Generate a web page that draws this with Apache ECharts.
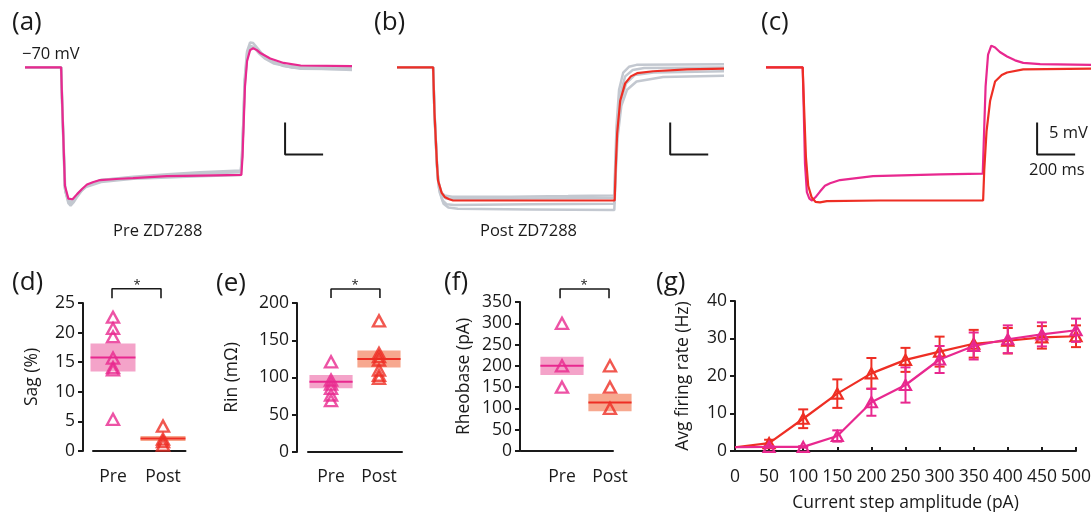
<!DOCTYPE html>
<html>
<head>
<meta charset="utf-8">
<script src="https://cdn.jsdelivr.net/npm/echarts@6/dist/echarts.min.js"></script>
<style>
  html, body { margin: 0; padding: 0; background: #fff; }
  #main { width: 1091px; height: 514px; }
</style>
</head>
<body>
<div id="main"></div>
<script>
// ---- traces (time in ms, voltage in mV) ----
const preTraceA = [[0,-70],[190,-70],[195,-75],[210,-88.5],[228,-90.5],[237,-90.8],[250,-90.6],[274,-89.8],[300,-89.0],[326,-88.3],[360,-87.9],[395,-87.6],[500,-87.4],[568,-87.3],[747,-87.0],[921,-86.9],[1138,-86.8],[1144,-84],[1150,-79],[1157,-73],[1168,-69],[1184,-67.3],[1200,-67.0],[1220,-67.3],[1240,-67.8],[1290,-68.6],[1360,-69.3],[1450,-69.7],[1720,-69.8]];
const grayTracesA = [
  [[0,-70],[190,-70],[195,-75.5],[210,-89],[228,-91.2],[240,-91.6],[255,-91.1],[275,-90.2],[300,-89.2],[330,-88.4],[400,-87.6],[570,-87.1],[750,-86.7],[920,-86.4],[1135,-86.1],[1141,-84],[1147,-80],[1155,-72],[1168,-67.5],[1184,-66.1],[1200,-66.2],[1220,-66.9],[1245,-67.8],[1290,-68.9],[1360,-69.8],[1450,-70.2],[1720,-70.3]],
  [[0,-70],[190,-70],[196,-76],[212,-89.4],[230,-91.0],[242,-91.2],[260,-90.6],[285,-89.6],[320,-88.7],[400,-87.9],[570,-87.4],[750,-87.2],[920,-87.0],[1135,-86.8],[1142,-84],[1148,-79],[1157,-72],[1170,-68],[1186,-66.8],[1205,-66.9],[1230,-67.8],[1260,-68.6],[1310,-69.4],[1400,-70.0],[1720,-70.4]],
  [[0,-70],[190,-70],[195,-75],[210,-88.8],[228,-90.9],[238,-91.1],[252,-90.8],[275,-89.9],[300,-89.1],[330,-88.4],[400,-87.6],[570,-87.2],[750,-86.9],[920,-86.6],[1135,-86.4],[1141,-84],[1147,-79.5],[1156,-72.5],[1168,-67.8],[1184,-66.6],[1202,-66.8],[1225,-67.5],[1250,-68.2],[1300,-69.1],[1380,-69.8],[1720,-70.0]]
];
const postTraceB = [[0,-70],[190,-70],[197,-77],[210,-85],[216,-87.7],[235,-89.6],[253,-90.3],[275,-90.6],[295,-90.8],[600,-90.8],[900,-90.8],[1145,-90.8],[1150,-86],[1158,-80.3],[1174,-75.2],[1200,-72.5],[1230,-71.4],[1263,-70.9],[1347,-70.6],[1526,-70.3],[1720,-70.2]];
const grayTracesB = [
  [[0,-70],[190,-70],[196,-76],[208,-84],[215,-87.5],[232,-89.5],[250,-90.0],[290,-90.2],[600,-90.2],[900,-90.1],[1143,-90.0],[1148,-85],[1155,-79],[1168,-73.5],[1190,-70.8],[1220,-69.9],[1260,-69.6],[1720,-69.5]],
  [[0,-70],[190,-70],[197,-77],[210,-85],[218,-88],[238,-90],[258,-90.5],[300,-90.6],[700,-90.5],[1143,-90.4],[1149,-85.5],[1157,-79.5],[1172,-74.5],[1200,-71.4],[1240,-70.4],[1300,-70.1],[1720,-70.0]],
  [[0,-70],[190,-70],[197,-77],[210,-85.5],[220,-88.8],[240,-90.8],[262,-91.4],[300,-91.5],[700,-91.4],[1143,-91.3],[1150,-86],[1158,-80.5],[1175,-75.5],[1205,-72.5],[1250,-71.2],[1350,-70.8],[1720,-70.6]],
  [[0,-70],[190,-70],[198,-78],[212,-86],[224,-89.5],[245,-91.3],[270,-91.9],[320,-92.1],[700,-92.2],[1143,-92.3],[1150,-87],[1160,-81],[1180,-76],[1210,-73.5],[1260,-72.2],[1400,-71.5],[1720,-71.3]]
];
const preTraceC = [[0,-70],[193,-70],[198,-76],[205,-85],[215,-89.5],[228,-90.5],[242,-90.8],[260,-90.3],[284,-89.4],[310,-88.5],[337,-88.1],[389,-87.6],[563,-87.0],[916,-86.7],[1140,-86.6],[1145,-82],[1155,-73],[1168,-68],[1185,-66.6],[1205,-66.9],[1230,-67.6],[1268,-68.3],[1310,-68.9],[1353,-69.3],[1442,-69.5],[1720,-69.6]];
const postTraceC = [[0,-70],[193,-70],[200,-76],[210,-84],[222,-88.5],[240,-90.3],[260,-91],[284,-91.1],[320,-90.9],[600,-90.8],[1142,-90.8],[1148,-86],[1160,-80],[1179,-75.2],[1205,-72.2],[1240,-71.2],[1268,-70.8],[1353,-70.3],[1720,-70.2]];

// scale bar: 5 mV / 200 ms, anchored (time of vertical bar, top voltage)
const SCALE_MV = 5, SCALE_MS = 200;
const scaleAnchors = [[1368, -78.6], [1437, -78.6], [1426, -78.6]];

// ---- summary panels ----
const groups = ['Pre', 'Post'];
const sagPre = [22.6, 20.7, 19.3, 15.7, 14.1, 13.7, 5.35];
const sagPost = [4.2, 2.0, 1.6, 1.0];
const sagMean = [15.8, 2.1];
const sagSem = [2.35, 0.42];
const rinPre = [121, 96.6, 91, 85.5, 76.5, 69];
const rinPost = [176, 132.5, 128, 123.5, 110, 103, 99];
const rinMean = [94.4, 124.8];
const rinSem = [8.8, 11.3];
const rheoPre = [300, 200, 150];
const rheoPost = [200, 150, 100];
const rheoMean = [200, 114];
const rheoSem = [21.5, 20.7];

// ---- f-I curve ----
const currents = [0, 50, 100, 150, 200, 250, 300, 350, 400, 450, 500];
const postRate = [1.0, 2.1, 8.6, 15.3, 20.7, 24.3, 26.5, 28.6, 29.4, 30.3, 30.6];
const postErr = [0, 0.9, 2.5, 3.8, 4.1, 3.2, 4.0, 3.7, 3.4, 3.0, 2.9];
const preRate = [1.0, 1.1, 1.1, 4.0, 13.0, 17.6, 24.4, 28.0, 29.8, 31.1, 32.2];
const preErr = [0, 0.2, 0.2, 1.5, 3.6, 4.7, 3.6, 3.6, 3.7, 3.2, 3.1];

const PINK = '#e8288f';
const RED = '#ee2e24';
const GRAY = '#c3c8d0';
const BOX_FILL = ['#f4a3c9', '#f7a88f'];
const FONT = 'Open Sans';
const INK = '#1a1a1a';
const FS = 17.5;

const chart = echarts.init(document.getElementById('main'));

const traceAxisX = (i) => ({ gridIndex: i, type: 'value', min: 0, max: 1720, show: false });
const traceAxisY = (i) => ({ gridIndex: i, type: 'value', min: -94, max: -64, show: false });

function traceLine(i, data, color, width, z) {
  return { type: 'line', xAxisIndex: i, yAxisIndex: i, data, showSymbol: false, symbol: 'none',
    lineStyle: { color, width }, z, silent: true };
}

function scaleBar(i) {
  const [t, v] = scaleAnchors[i];
  return traceLine(i, [[t, v], [t, v - SCALE_MV], [t + SCALE_MS, v - SCALE_MV]], INK, 2, 5);
}

function summaryY(i, max, interval, offset, name, nameGap) {
  return {
    gridIndex: i, type: 'value', min: 0, max, interval, offset,
    axisLine: { show: true, lineStyle: { color: INK, width: 2 } },
    axisTick: { show: true, length: 5, lineStyle: { color: INK, width: 2 } },
    axisLabel: { color: INK, fontSize: FS, fontFamily: FONT, margin: 8 },
    splitLine: { show: false },
    name, nameLocation: 'middle', nameGap,
    nameTextStyle: { color: INK, fontSize: FS, fontFamily: FONT }
  };
}

function summaryX(i, min, max, offset) {
  return {
    gridIndex: i, type: 'value', min, max, offset,
    axisLine: { show: true, lineStyle: { color: INK, width: 2 } },
    axisTick: { show: false },
    axisLabel: { customValues: [1, 2], formatter: (v) => groups[Math.round(v) - 1] || '',
      color: INK, fontSize: FS, fontFamily: FONT, margin: 8 },
    splitLine: { show: false }
  };
}

function boxSeries(i, mean, sem) {
  return {
    type: 'custom', xAxisIndex: i, yAxisIndex: i, clip: false, z: 1, silent: true,
    data: mean.map((m, k) => [k + 1, m, sem[k]]),
    renderItem: (params, api) => {
      const x = api.value(0), m = api.value(1), s = api.value(2);
      const hw = 0.45;
      const p1 = api.coord([x - hw, m + s]);
      const p2 = api.coord([x + hw, m - s]);
      const pm1 = api.coord([x - hw, m]);
      const pm2 = api.coord([x + hw, m]);
      const line = params.dataIndex === 0 ? PINK : RED;
      return { type: 'group', children: [
        { type: 'rect', shape: { x: p1[0], y: p1[1], width: p2[0] - p1[0], height: p2[1] - p1[1] },
          style: { fill: BOX_FILL[params.dataIndex] } },
        { type: 'line', shape: { x1: pm1[0], y1: pm1[1], x2: pm2[0], y2: pm2[1] },
          style: { stroke: line, lineWidth: 2 } }
      ] };
    }
  };
}

function points(i, x, values, color) {
  return {
    type: 'scatter', xAxisIndex: i, yAxisIndex: i, z: 3, silent: true,
    data: values.map(v => [x, v]),
    symbol: 'triangle', symbolSize: [12, 11],
    itemStyle: { color: 'rgba(255,255,255,0)', borderColor: color, borderWidth: 2.4 }
  };
}

function bracket(i, x1, x2, yTop, yBot) {
  return { type: 'line', xAxisIndex: i, yAxisIndex: i, clip: false, symbol: 'none', silent: true,
    data: [[x1, yBot], [x1, yTop], [x2, yTop], [x2, yBot]],
    lineStyle: { color: INK, width: 1.6 } };
}

function errorBars(i, xs, ys, es, color, z) {
  return {
    type: 'custom', xAxisIndex: i, yAxisIndex: i, z, silent: true,
    data: xs.map((x, k) => [x, ys[k], es[k]]),
    renderItem: (params, api) => {
      const x = api.value(0), y = api.value(1), e = api.value(2);
      if (!e) return null;
      const top = api.coord([x, y + e]);
      const bot = api.coord([x, y - e]);
      const w = 5;
      const st = { stroke: color, lineWidth: 2 };
      return { type: 'group', children: [
        { type: 'line', shape: { x1: top[0], y1: top[1], x2: bot[0], y2: bot[1] }, style: st },
        { type: 'line', shape: { x1: top[0] - w, y1: top[1], x2: top[0] + w, y2: top[1] }, style: st },
        { type: 'line', shape: { x1: bot[0] - w, y1: bot[1], x2: bot[0] + w, y2: bot[1] }, style: st }
      ] };
    }
  };
}

function rateLine(i, ys, color, z) {
  return {
    type: 'line', xAxisIndex: i, yAxisIndex: i, z, silent: true,
    data: currents.map((c, k) => k === 0 ? { value: [c, ys[k]], symbol: 'none' } : [c, ys[k]]),
    symbol: 'triangle', symbolSize: [11, 10], showAllSymbol: true,
    lineStyle: { color, width: 2.2 },
    itemStyle: { color: 'rgba(255,255,255,0)', borderColor: color, borderWidth: 2.2 }
  };
}

function label(text, x, y, size, align) {
  return { type: 'text', x, y, silent: true,
    style: { text, fill: INK, font: size + 'px "' + FONT + '"', align: align || 'left', verticalAlign: 'middle' } };
}

const grid = (left, top, width, height) => ({ left, top, width, height, outerBoundsMode: 'none', containLabel: false });

const option = {
  animation: false,
  backgroundColor: '#fff',
  grid: [
    grid(25, 29, 327, 192),
    grid(397, 29, 327, 192),
    grid(766, 29, 327, 192),
    grid(93, 303, 92.5, 148),
    grid(308, 303, 94, 149),
    grid(521, 302, 92, 149),
    grid(735, 301, 341, 150)
  ],
  xAxis: [
    traceAxisX(0), traceAxisX(1), traceAxisX(2),
    summaryX(3, 0.6, 2.45, 9),
    summaryX(4, 0.52, 2.48, 8),
    summaryX(5, 0.146, 2.063, 9),
    {
      gridIndex: 6, type: 'value', min: 0, max: 500, interval: 50, offset: 8,
      axisLine: { show: true, lineStyle: { color: INK, width: 2 } },
      axisTick: { show: true, inside: true, length: 4, lineStyle: { color: INK, width: 2 } },
      axisLabel: { color: INK, fontSize: FS, fontFamily: FONT, margin: 9 },
      splitLine: { show: false },
      name: 'Current step amplitude (pA)', nameLocation: 'middle', nameGap: 35,
      nameTextStyle: { color: INK, fontSize: FS, fontFamily: FONT }
    }
  ],
  yAxis: [
    traceAxisY(0), traceAxisY(1), traceAxisY(2),
    summaryY(3, 25, 5, 10, 'Sag (%)', 42),
    summaryY(4, 200, 50, 11, 'Rin (mΩ)', 56),
    summaryY(5, 350, 50, 1, 'Rheobase (pA)', 47),
    summaryY(6, 40, 10, 0, 'Avg firing rate (Hz)', 43)
  ],
  series: [
    ...grayTracesA.map(d => traceLine(0, d, GRAY, 2.5, 1)),
    traceLine(0, preTraceA, PINK, 2.2, 3),
    scaleBar(0),
    ...grayTracesB.map(d => traceLine(1, d, GRAY, 2.5, 1)),
    traceLine(1, postTraceB, RED, 2.2, 3),
    scaleBar(1),
    traceLine(2, preTraceC, PINK, 2.2, 3),
    traceLine(2, postTraceC, RED, 2.2, 3),
    scaleBar(2),

    boxSeries(3, sagMean, sagSem),
    points(3, 1, sagPre, PINK),
    points(3, 2, sagPost, RED),
    bracket(3, 0.98, 1.96, 27.4, 25.8),

    boxSeries(4, rinMean, rinSem),
    points(4, 1, rinPre, PINK),
    points(4, 2, rinPost, RED),
    bracket(4, 1.0, 2.02, 218.8, 206.7),

    boxSeries(5, rheoMean, rheoSem),
    points(5, 1, rheoPre, PINK),
    points(5, 2, rheoPost, RED),
    bracket(5, 0.96, 1.98, 380.5, 359),

    errorBars(6, currents, postRate, postErr, RED, 2),
    rateLine(6, postRate, RED, 3),
    errorBars(6, currents, preRate, preErr, PINK, 4),
    rateLine(6, preRate, PINK, 5)
  ],
  graphic: [
    label('(a)', 12, 23, 26),
    label('(b)', 374, 23, 26),
    label('(c)', 761, 23, 26),
    label('(d)', 12, 283, 26),
    label('(e)', 216, 284, 26),
    label('(f)', 444, 283, 26),
    label('(g)', 656, 283, 26),
    label('\u221270 mV', 22, 54, 16.5),
    label('Pre ZD7288', 113, 231, 16.5),
    label('Post ZD7288', 480, 231, 16.5),
    label('5 mV', 1049, 133, 16.5),
    label('200 ms', 1029, 170, 16.5),
    label('*', 137, 285, 13, 'center'),
    label('*', 355, 285, 13, 'center'),
    label('*', 584, 285, 13, 'center')
  ]
};

chart.setOption(option);
</script>
</body>
</html>
